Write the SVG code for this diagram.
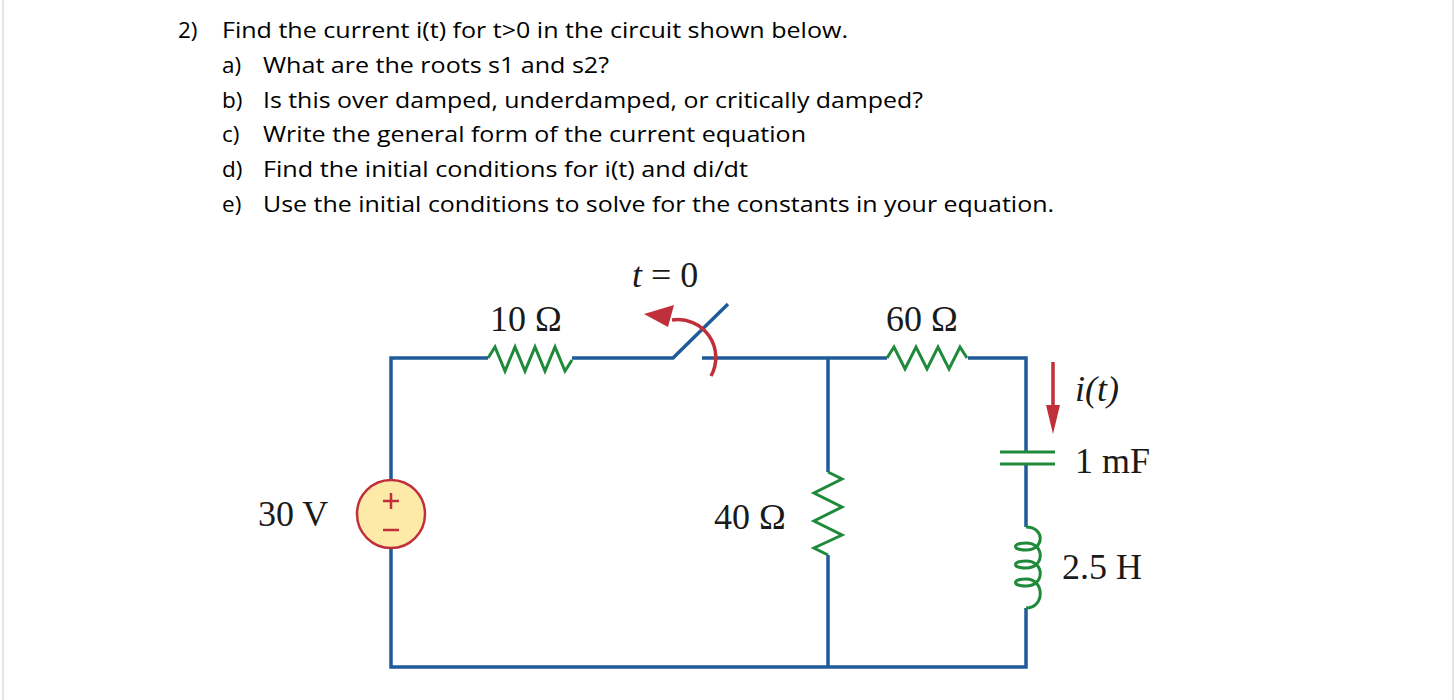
<svg xmlns="http://www.w3.org/2000/svg" width="1456" height="700" viewBox="0 0 1456 700">
<style>
.q{font-family:"Open Sans","Liberation Sans",sans-serif;font-size:22.5px;fill:#000}
.s{font-family:"Liberation Serif","DejaVu Serif",serif;font-size:36px;fill:#1a1a1a}
.w{fill:none;stroke:#1f5b99;stroke-width:3.5}
.g{fill:none;stroke:#1e8a3a;stroke-width:3}
.r{fill:none;stroke:#c0303a;stroke-width:3.5}
</style>
<rect width="1456" height="700" fill="#fff"/>
<line x1="3" y1="0" x2="3" y2="700" stroke="#ccc"/>
<line x1="1453" y1="0" x2="1453" y2="700" stroke="#ccc"/>
<g id="questions">
<text class="q" x="178" y="38">2)</text>
<text class="q" x="222" y="38" textLength="626" lengthAdjust="spacingAndGlyphs">Find the current i(t) for t&gt;0 in the circuit shown below.</text>
<text class="q" x="222" y="73">a)</text><text class="q" x="263" y="73" textLength="346" lengthAdjust="spacingAndGlyphs">What are the roots s1 and s2?</text>
<text class="q" x="222" y="108">b)</text><text class="q" x="263" y="108" textLength="660" lengthAdjust="spacingAndGlyphs">Is this over damped, underdamped, or critically damped?</text>
<text class="q" x="222" y="142">c)</text><text class="q" x="263" y="142" textLength="543" lengthAdjust="spacingAndGlyphs">Write the general form of the current equation</text>
<text class="q" x="222" y="177">d)</text><text class="q" x="263" y="177" textLength="485" lengthAdjust="spacingAndGlyphs">Find the initial conditions for i(t) and di/dt</text>
<text class="q" x="222" y="212">e)</text><text class="q" x="263" y="212" textLength="791" lengthAdjust="spacingAndGlyphs">Use the initial conditions to solve for the constants in your equation.</text>
</g>
<g id="wires">
<path class="w" d="M391,480V358H488M572,358H673L728,304M702,358H887M968,358H1026V452M1026,464V527M1026,608V667H391V548M828,358V472M828,555V667"/>
</g>
<g id="source">
<circle cx="391" cy="514" r="34" fill="#fde9a8" stroke="#c0303a" stroke-width="2.5"/>
<path d="M391,493v16M383,501h16M383,530h16" stroke="#c0303a" stroke-width="2.5"/>
<text class="s" x="258" y="526">30 V</text>
</g>
<g id="r10">
<path class="g" d="M488,358l7,-11l10,24l10,-24l10,24l10,-24l10,24l10,-24l10,24l7,-11"/>
<text class="s" x="490" y="331">10 Ω</text>
</g>
<g id="switch">
<path class="r" d="M711,376A38,38 0 0 0 672,320"/>
<path d="M644,314L674,305L668,327z" fill="#c0303a"/>
<text class="s" x="632" y="287"><tspan font-style="italic">t</tspan> = 0</text>
</g>
<g id="r60">
<path class="g" d="M887,358l7,-11l11,22l11,-22l11,22l11,-22l11,22l11,-22l7,11"/>
<text class="s" x="886" y="331">60 Ω</text>
</g>
<g id="r40">
<path class="g" d="M828,472l14,7l-28,14l28,14l-28,14l28,14l-28,13l14,7"/>
<text class="s" x="714" y="529">40 Ω</text>
</g>
<g id="cap">
<path class="g" d="M1000,452H1055M1000,464H1055"/>
<text class="s" x="1075" y="473">1 mF</text>
</g>
<g id="ind">
<path class="g" d="M1026,527C1045,527 1045,550 1026,550C1012,550 1012,543 1026,543C1045,543 1045,568 1026,568C1012,568 1012,561 1026,561C1045,561 1045,586 1026,586C1012,586 1012,579 1026,579C1045,579 1045,608 1026,608"/>
<text class="s" x="1062" y="579">2.5 H</text>
</g>
<g id="current">
<line x1="1053" y1="362" x2="1053" y2="412" stroke="#c0303a" stroke-width="3.5"/>
<path d="M1046,405L1060,405L1053,434z" fill="#c0303a"/>
<text class="s" x="1075" y="401" font-style="italic">i(t)</text>
</g>
</svg>
